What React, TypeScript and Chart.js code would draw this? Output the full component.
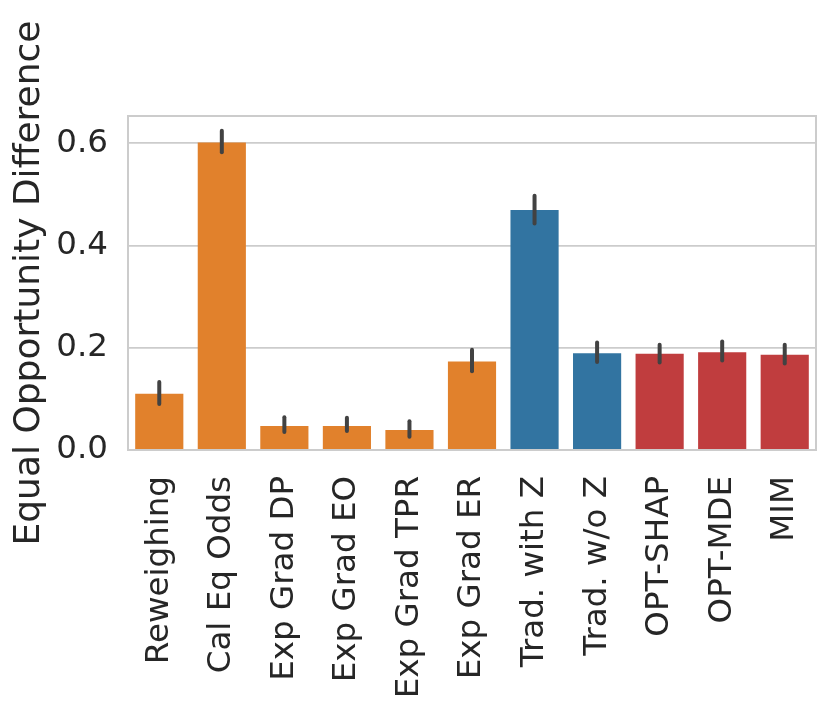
import React, { useEffect, useRef } from "react";
import { Chart, registerables } from "chart.js";

Chart.register(...registerables);

const CATEGORIES = [
  "Reweighing",
  "Cal Eq Odds",
  "Exp Grad DP",
  "Exp Grad EO",
  "Exp Grad TPR",
  "Exp Grad ER",
  "Trad. with Z",
  "Trad. w/o Z",
  "OPT-SHAP",
  "OPT-MDE",
  "MIM",
];
const VALUES = [0.110, 0.601, 0.047, 0.047, 0.039, 0.173, 0.469, 0.189, 0.188, 0.191, 0.186];
const ERR_LOW = [0.090, 0.582, 0.035, 0.037, 0.026, 0.154, 0.443, 0.172, 0.171, 0.175, 0.169];
const ERR_HIGH = [0.133, 0.624, 0.064, 0.063, 0.056, 0.196, 0.497, 0.210, 0.206, 0.212, 0.206];
const GROUPS = ["baseline", "baseline", "baseline", "baseline", "baseline", "baseline", "trad", "trad", "ours", "ours", "ours"];
const GROUP_COLORS: Record<string, string> = {
  baseline: "#e1812c",
  trad: "#3274a1",
  ours: "#c03d3e",
};
const Y_TICKS = [0, 0.2, 0.4, 0.6];
const Y_MAX = 0.653;
const Y_LABEL = "Equal Opportunity Difference";

const FONT = "'DejaVu Sans', sans-serif";
const TEXT = "#262626";

export default function App() {
  const ref = useRef<HTMLCanvasElement | null>(null);

  useEffect(() => {
    document.body.style.margin = "0";
    const canvas = ref.current;
    if (!canvas) return;

    const errorBars = {
      id: "errorBars",
      afterDatasetsDraw(chart: any) {
        const ctx = chart.ctx;
        const meta = chart.getDatasetMeta(0);
        const ys = chart.scales.y;
        ctx.save();
        ctx.strokeStyle = "#424242";
        ctx.lineWidth = 4;
        ctx.lineCap = "round";
        meta.data.forEach((bar: any, i: number) => {
          ctx.beginPath();
          ctx.moveTo(bar.x, ys.getPixelForValue(ERR_LOW[i]));
          ctx.lineTo(bar.x, ys.getPixelForValue(ERR_HIGH[i]));
          ctx.stroke();
        });
        const a = chart.chartArea;
        ctx.strokeStyle = "#cccccc";
        ctx.lineWidth = 2;
        ctx.lineCap = "butt";
        ctx.strokeRect(a.left, a.top, a.right - a.left, a.bottom - a.top);
        ctx.restore();
      },
    };

    const chart = new Chart(canvas, {
      type: "bar",
      data: {
        labels: CATEGORIES,
        datasets: [
          {
            data: VALUES,
            backgroundColor: GROUPS.map((g) => GROUP_COLORS[g]),
            borderWidth: 0,
            barPercentage: 0.77,
            categoryPercentage: 1,
          },
        ],
      },
      options: {
        animation: false,
        responsive: false,
        devicePixelRatio: 1,
        layout: { padding: { top: 116, right: 14, left: 0, bottom: 0 } },
        plugins: {
          legend: { display: false },
          tooltip: { enabled: false },
        },
        scales: {
          x: {
            grid: { display: false },
            border: { display: false },
            ticks: {
              autoSkip: false,
              minRotation: 90,
              maxRotation: 90,
              padding: 18,
              color: TEXT,
              font: { family: FONT, size: 32.5 },
            },
            afterFit(scale: any) {
              scale.height = 262;
              scale.paddingLeft = 0;
              scale.paddingRight = 0;
            },
          },
          y: {
            min: 0,
            max: Y_MAX,
            grid: { color: "#cccccc", lineWidth: 1.7, drawTicks: false },
            border: { display: false },
            ticks: {
              padding: 20,
              color: TEXT,
              font: { family: FONT, size: 32.5 },
              callback: (v: any) => Number(v).toFixed(1),
            },
            afterBuildTicks(scale: any) {
              scale.ticks = Y_TICKS.map((v) => ({ value: v }));
            },
            afterFit(scale: any) {
              scale.width = 128;
              scale.paddingTop = 0;
              scale.paddingBottom = 0;
            },
            title: {
              display: true,
              text: Y_LABEL,
              color: TEXT,
              font: { family: FONT, size: 36 },
              padding: { top: 8, bottom: 0 },
            },
          },
        },
      },
      plugins: [errorBars],
    });

    return () => chart.destroy();
  }, []);

  return (
    <div style={{ position: "absolute", left: 0, top: 0, width: 830, height: 712 }}>
      <canvas ref={ref} width={830} height={712} style={{ width: 830, height: 712 }} />
    </div>
  );
}
